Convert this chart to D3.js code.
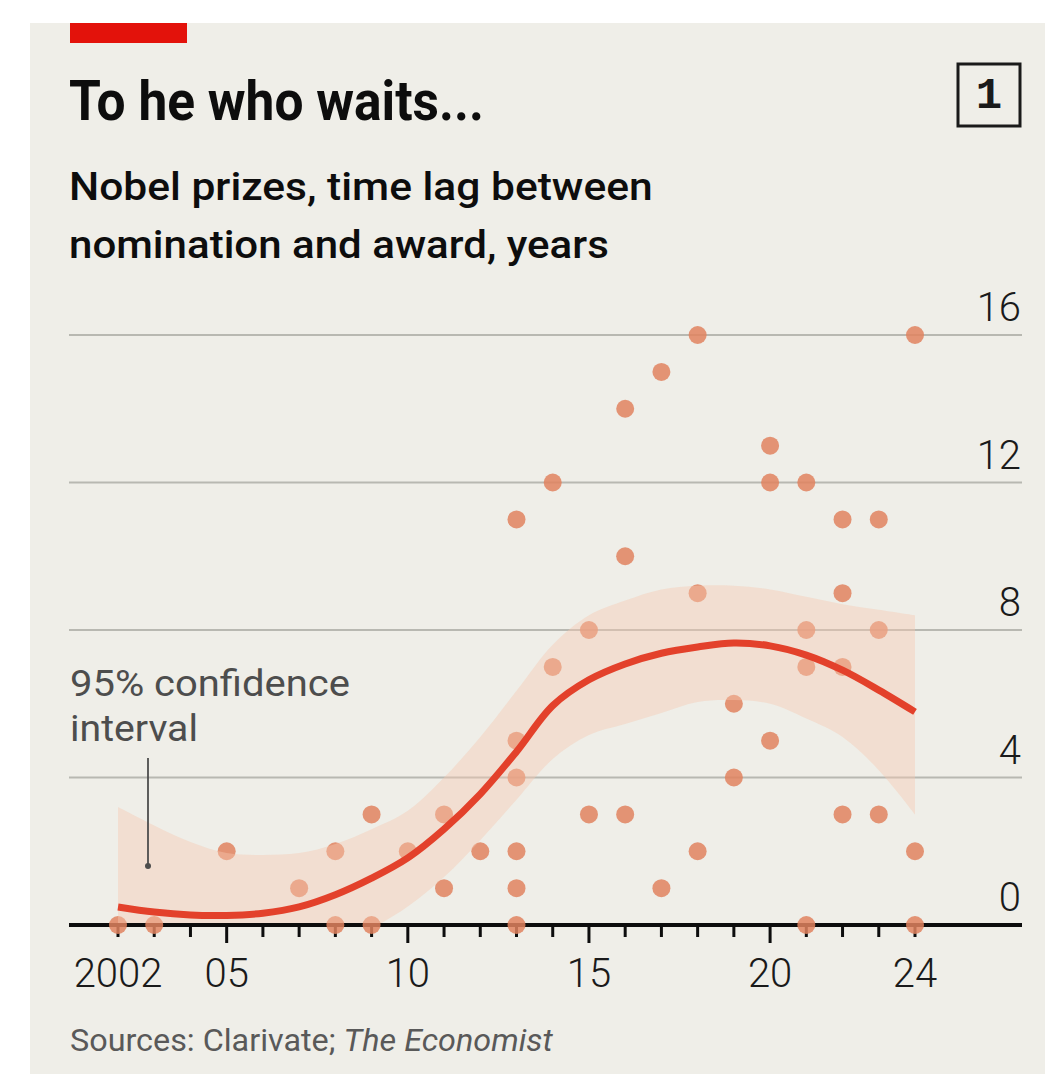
<!DOCTYPE html>
<html>
<head>
<meta charset="utf-8">
<script src="https://cdn.jsdelivr.net/npm/d3@7"></script>
<style>
  body { margin: 0; background: #ffffff; }
  svg text { font-family: Roboto, "Noto Sans", sans-serif; }
</style>
</head>
<body>
<svg id="chart" width="1061" height="1074"></svg>
<script>
// years on the x axis
const years = [2002,2003,2004,2005,2006,2007,2008,2009,2010,2011,2012,2013,2014,2015,2016,2017,2018,2019,2020,2021,2022,2023,2024];
// smoothed trend and its 95% band, one value per year
const trend = [0.49,0.35,0.27,0.26,0.32,0.49,0.82,1.27,1.82,2.6,3.55,4.7,5.95,6.65,7.08,7.37,7.54,7.65,7.57,7.32,6.91,6.37,5.78];
const bandHigh = [3.2,2.7,2.25,1.95,1.9,1.95,2.2,2.6,3.1,4.0,5.1,6.35,7.6,8.4,8.8,9.1,9.2,9.2,9.1,8.9,8.7,8.55,8.4];
const bandLow = [-2.3,-1.95,-1.6,-1.35,-1.2,-1.0,-0.6,-0.1,0.5,1.3,2.3,3.4,4.5,5.15,5.45,5.75,6.05,6.1,6.0,5.6,5.1,4.2,3.0];
// single prizes: award year and lag in years
const dotYear = [2002,2003,2005,2007,2008,2008,2009,2009,2010,2011,2011,2012,
                 2013,2013,2013,2013,2013,2013,2014,2014,2015,2015,2016,2016,2016,
                 2017,2017,2018,2018,2018,2019,2019,2020,2020,2020,
                 2021,2021,2021,2021,2022,2022,2022,2022,2023,2023,2023,2024,2024,2024];
const dotLag = [0,0,2,1,2,0,3,0,2,3,1,2,
                11,5,4,2,1,0,12,7,8,3,14,10,3,
                15,1,16,9,2,6,4,13,12,5,
                12,8,7,0,11,9,7,3,11,8,3,16,2,0];
// axis ticks
const yTicks = [0,4,8,12,16];
const xTickYears = [2002,2005,2010,2015,2020,2024];
const xTickLabels = ["2002","05","10","15","20","24"];
const majorYears = [2005,2010,2015,2020];

const svg = d3.select("#chart");

const x = d3.scaleLinear().domain([2002, 2024]).range([118, 915]);
const y = d3.scaleLinear().domain([0, 16]).range([925, 335]);

// squeeze a text horizontally so it fits a given width (condensed look)
function fitText(sel, w) {
  let n = sel.node().getComputedTextLength();
  let tx = +sel.attr("x"), ty = +sel.attr("y");
  sel.attr("x", 0).attr("y", 0)
     .attr("transform", "translate(" + tx + "," + ty + ") scale(" + (w / n) + ",1)");
}

// panel
svg.append("rect").attr("x", 30).attr("y", 23).attr("width", 1015).attr("height", 1051).attr("fill", "#efeee8");
svg.append("rect").attr("x", 70).attr("y", 23).attr("width", 117).attr("height", 20).attr("fill", "#e3120b");

// titles
let title = svg.append("text").attr("x", 69).attr("y", 120)
  .attr("font-size", 56).attr("font-weight", 700).attr("fill", "#0d0d0d")
  .text("To he who waits...");
fitText(title, 415);

let sub1 = svg.append("text").attr("x", 69).attr("y", 200)
  .attr("font-size", 38).attr("font-weight", 500).attr("fill", "#0d0d0d")
  .text("Nobel prizes, time lag between");
fitText(sub1, 584);
let sub2 = svg.append("text").attr("x", 69).attr("y", 258)
  .attr("font-size", 38).attr("font-weight", 500).attr("fill", "#0d0d0d")
  .text("nomination and award, years");
fitText(sub2, 540);

// chart number box
svg.append("rect").attr("x", 958).attr("y", 64).attr("width", 62).attr("height", 62)
  .attr("fill", "none").attr("stroke", "#1a1a1a").attr("stroke-width", 3);
svg.append("text").attr("x", 989).attr("y", 108).attr("text-anchor", "middle")
  .attr("font-size", 44).attr("font-weight", 700)
  .style("font-family", "'Liberation Mono', 'DejaVu Sans Mono', monospace")
  .attr("fill", "#1a1a1a").text("1");

// gridlines + y labels
svg.append("g").selectAll("line").data(yTicks.filter(d => d > 0)).enter().append("line")
  .attr("x1", 69).attr("x2", 1022)
  .attr("y1", d => y(d)).attr("y2", d => y(d))
  .attr("stroke", "#b8b8b1").attr("stroke-width", 2);

svg.append("g").selectAll("text").data(yTicks).enter().append("text")
  .attr("x", 1021).attr("y", d => y(d) - 14)
  .attr("text-anchor", "end").attr("font-size", 40).attr("font-weight", 300)
  .attr("fill", "#1a1a1a").text(d => d);

// x axis ticks
svg.append("g").selectAll("line").data(years).enter().append("line")
  .attr("x1", d => x(d)).attr("x2", d => x(d))
  .attr("y1", y(0)).attr("y2", d => majorYears.includes(d) ? y(0) + 18 : y(0) + 12)
  .attr("stroke", "#0d0d0d").attr("stroke-width", 3);

svg.append("line").attr("x1", 69).attr("x2", 1022).attr("y1", y(0)).attr("y2", y(0))
  .attr("stroke", "#0d0d0d").attr("stroke-width", 4);

svg.append("g").selectAll("text").data(xTickYears).enter().append("text")
  .attr("x", d => x(d)).attr("y", 987)
  .attr("text-anchor", "middle").attr("font-size", 40).attr("font-weight", 300)
  .attr("fill", "#1a1a1a").text((d, i) => xTickLabels[i]);

// dots
svg.append("g").selectAll("circle").data(dotYear).enter().append("circle")
  .attr("cx", d => x(d)).attr("cy", (d, i) => y(dotLag[i]))
  .attr("r", 9).attr("fill", "#e0825f").attr("fill-opacity", 0.85);

// confidence band, cut at zero
svg.append("clipPath").attr("id", "above0").append("rect")
  .attr("x", 0).attr("y", 0).attr("width", 1061).attr("height", y(0) - 2);

let area = d3.area().x(d => x(d)).y0((d, i) => y(bandLow[i])).y1((d, i) => y(bandHigh[i]))
  .curve(d3.curveCatmullRom.alpha(0.5));
svg.append("path").datum(years).attr("d", area)
  .attr("clip-path", "url(#above0)")
  .attr("fill", "#f5c9b0").attr("fill-opacity", 0.42);

let line = d3.line().x(d => x(d)).y((d, i) => y(trend[i])).curve(d3.curveCatmullRom.alpha(0.5));
svg.append("path").datum(years).attr("d", line)
  .attr("fill", "none").attr("stroke", "#e3412b").attr("stroke-width", 7);

// annotation
let ann = svg.append("g").attr("fill", "#4d4d4d");
let a1 = ann.append("text").attr("x", 70).attr("y", 696).attr("font-size", 37).text("95% confidence");
fitText(a1, 280);
let a2 = ann.append("text").attr("x", 70).attr("y", 741).attr("font-size", 37).text("interval");
fitText(a2, 128);
svg.append("line").attr("x1", 148).attr("x2", 148).attr("y1", 758).attr("y2", 866)
  .attr("stroke", "#4d4d4d").attr("stroke-width", 1.8);
svg.append("circle").attr("cx", 148).attr("cy", 866).attr("r", 3).attr("fill", "#4d4d4d");

// source
let src = svg.append("text").attr("x", 70).attr("y", 1051).attr("font-size", 32)
  .attr("fill", "#595959");
src.append("tspan").text("Sources: Clarivate; ");
src.append("tspan").attr("font-style", "italic").text("The Economist");
fitText(src, 483);
</script>
</body>
</html>
